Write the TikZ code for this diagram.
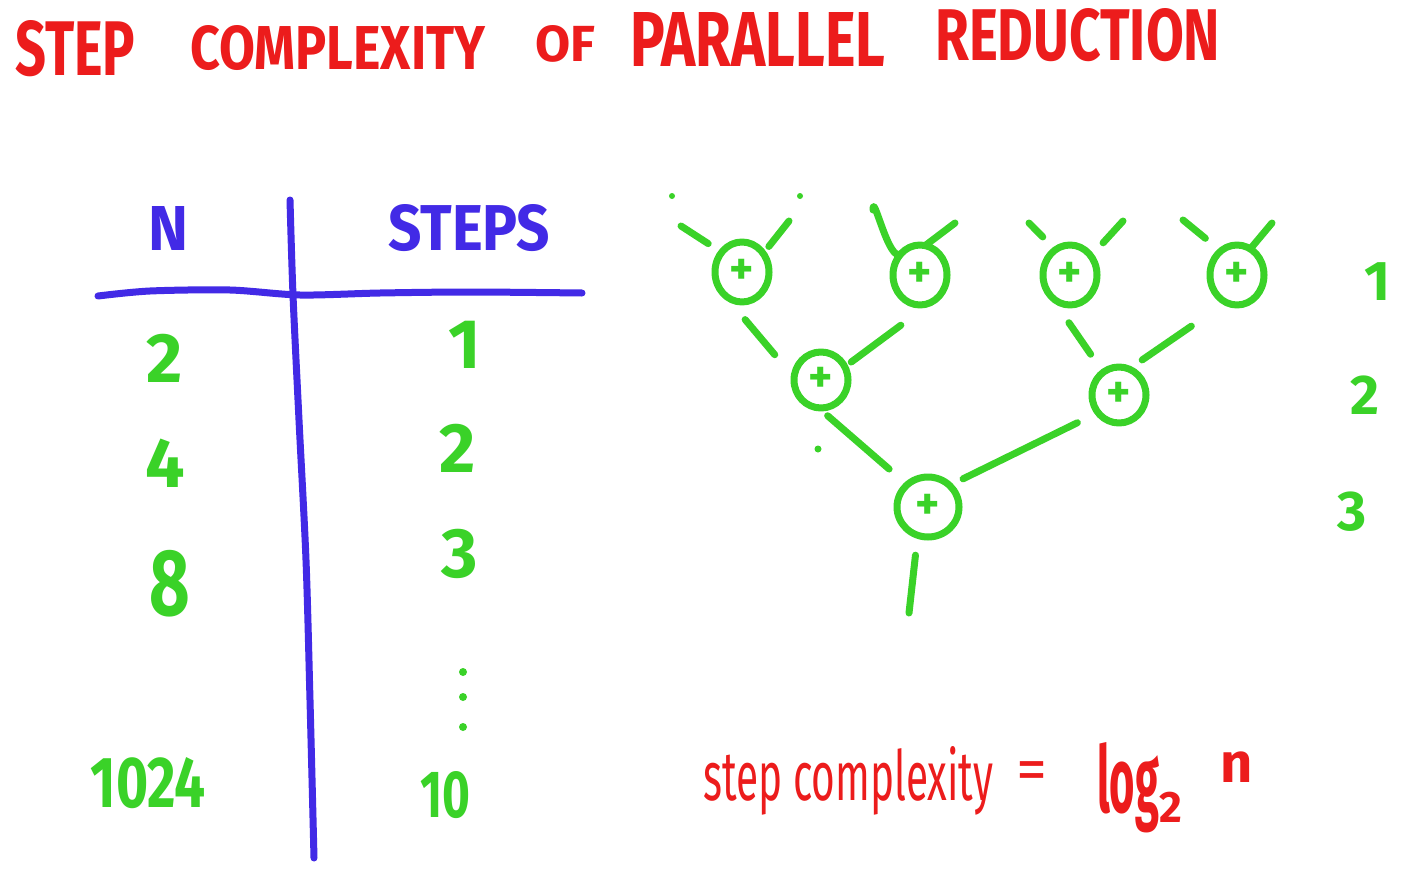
\documentclass[tikz,border=0pt]{standalone}
\usepackage{fontspec}
\setmainfont{Fira Sans}
\usepackage{graphicx}
\usetikzlibrary{shapes.geometric, arrows.meta}
\definecolor{penred}{RGB}{236,28,28}
\definecolor{penblue}{RGB}{66,42,230}
\definecolor{pengreen}{RGB}{58,210,40}
\tikzset{
  pen/.style={line width=7pt, line cap=round, line join=round},
  plusnode/.style={ellipse, draw=pengreen, pen, minimum width=54pt, minimum height=60pt,
    inner sep=0pt, outer sep=0pt, text=pengreen, font=\bfseries\fontsize{46}{46}\selectfont},
  wire/.style={pen, draw=pengreen},
  word/.style={inner sep=0pt, anchor=base west},
  num/.style={inner sep=0pt, text=pengreen, font=\bfseries\fontsize{70}{70}\selectfont},
  level/.style={inner sep=0pt, text=pengreen, font=\bfseries\fontsize{56}{56}\selectfont},
}

\begin{document}
\begin{tikzpicture}[x=1pt, y=-1pt]
  \fill[white] (0,0) rectangle (1401,870);
  \useasboundingbox (0,0) rectangle (1401,870);

  % Title
  \node[word, text=penred] (ttlstep) at (15,75) {\resizebox{120pt}{55pt}{\bfseries STEP}};
  \node[word, text=penred] (ttlcompl) at (190,69) {\resizebox{295pt}{44pt}{\bfseries COMPLEXITY}};
  \node[word, text=penred] (ttlof) at (535,61) {\resizebox{60pt}{36pt}{\bfseries OF}};
  \node[word, text=penred] (ttlpar) at (630,66) {\resizebox{255pt}{54pt}{\bfseries PARALLEL}};
  \node[word, text=penred] (ttlred) at (935,60) {\resizebox{285pt}{52pt}{\bfseries REDUCTION}};

  % Table
  \node[word, text=penblue] (colN) at (148,250) {\resizebox{40pt}{44pt}{\bfseries N}};
  \node[word, text=penblue] (colSteps) at (388,250) {\resizebox{162pt}{46pt}{\bfseries STEPS}};
  \draw[pen, penblue] plot[smooth] coordinates {(98,296) (150,291) (230,290) (300,295) (380,293) (470,292) (582,293)};
  \draw[pen, penblue] plot[smooth] coordinates {(290,200) (293,295) (299,420) (306,560) (310,700) (314,858)};

  \node[num] (n2) at (165,358) {2};
  \node[num] (n4) at (165,463) {4};
  \node[num] (n8) at (170,584) {\scalebox{1}[1.35]{8}};
  \node[num] (n1024) at (148,783) {\resizebox{115pt}{50pt}{1024}};
  \node[num] (s1) at (465,345) {1};
  \node[num] (s2) at (458,448) {2};
  \node[num] (s3) at (460,554) {3};
  \node[num] (s10) at (445,795) {\resizebox{50pt}{46pt}{10}};
  \fill[pengreen] (463,672) circle (4) (463,697) circle (4) (463,727) circle (4);

  % Reduction tree
  \node[plusnode] (t1) at (742,272) {+};
  \node[plusnode] (t2) at (920,275) {+};
  \node[plusnode] (t3) at (1070,275) {+};
  \node[plusnode] (t4) at (1237,275) {+};
  \node[plusnode, minimum height=56pt] (mA) at (821,380) {+};
  \node[plusnode, minimum height=56pt] (mB) at (1119,395) {+};
  \node[plusnode, minimum width=62pt] (bot) at (928,507) {+};

  \coordinate (in1a) at (681,226);
  \coordinate (in1b) at (789,221);
  \coordinate (in2a) at (873,210);
  \coordinate (in2b) at (955,223);
  \coordinate (in3a) at (1029,223);
  \coordinate (in3b) at (1123,221);
  \coordinate (in4a) at (1183,220);
  \coordinate (in4b) at (1272,223);
  \coordinate (outend) at (909,613);

  \draw[wire, shorten >=16pt] (in1a) -- (t1.136);
  \draw[wire, shorten >=9pt] (in1b) -- (t1.41);
  \draw[wire, shorten >=3pt] (in2a) to[out=90, in=225] (t2.125);
  \draw[wire] (in2b) -- (t2.80);
  \draw[wire, shorten >=18pt] (in3a) -- (t3.120);
  \draw[wire, shorten >=18pt] (in3b) -- (t3.42);
  \draw[wire, shorten >=20pt] (in4a) -- (t4.124);
  \draw[wire] (in4b) -- (t4.63);

  \draw[wire, shorten <=36pt, shorten >=30pt] (t1.225) -- (mA.175);
  \draw[wire, shorten <=44pt, shorten >=8pt] (t2.304) -- (mA.29);
  \draw[wire, shorten <=36pt, shorten >=22pt] (t3.220) -- (mB.125);
  \draw[wire, shorten <=42pt, shorten >=16pt] (t4.248) -- (mB.69);
  \draw[wire, shorten <=12pt, shorten >=24pt] (mA.265) -- (bot.133);
  \draw[wire, shorten <=23pt, shorten >=15pt] (mB.220) -- (bot.45);
  \draw[wire, shorten <=20pt] (bot.250) -- (outend);
  \fill[pengreen] (672,196) circle (3) (800,196) circle (3) (818,449) circle (3.5);

  % Levels
  \node[level] (lvl1) at (1377,282) {1};
  \node[level] (lvl2) at (1365,395) {2};
  \node[level] (lvl3) at (1352,512) {3};

  % Result
  \node[word, text=penred] (stepc) at (703,800) {\resizebox{290pt}{54pt}{step complexity}};
  \node[word, text=penred] (eqsign) at (1016,790) {\fontsize{62}{62}\selectfont =};
  \node[word, text=penred] (logtxt) at (1097,812) {\bfseries\resizebox{62pt}{70pt}{log}\raisebox{-10pt}{\fontsize{44}{44}\selectfont 2}};
  \node[word, text=penred] (ntxt) at (1220,782) {\bfseries\fontsize{56}{56}\selectfont n};
\end{tikzpicture}
\end{document}
